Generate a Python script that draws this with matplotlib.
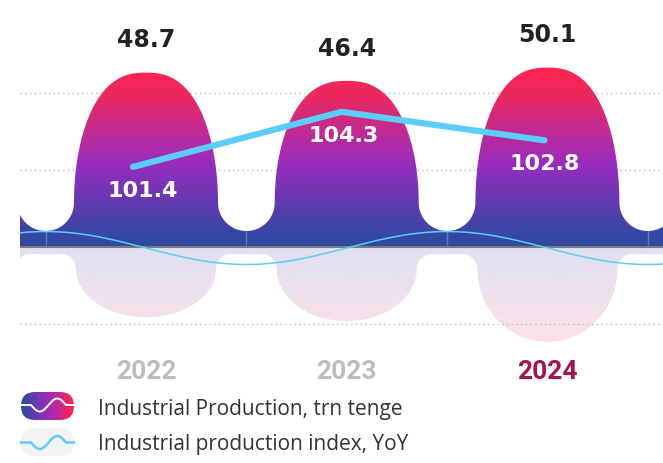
import numpy as np
import matplotlib
matplotlib.use('Agg')
import matplotlib.pyplot as plt
from matplotlib.colors import LinearSegmentedColormap
from matplotlib.patches import Polygon, FancyBboxPatch
from matplotlib.transforms import blended_transform_factory

# ---------------- data ----------------
years = ['2022', '2023', '2024']
production_trn = [48.7, 46.4, 50.1]          # Industrial Production, trn tenge
production_index = [101.4, 104.3, 102.8]     # Industrial production index, YoY
reflection_depth = [19.6, 20.7, 26.5]        # lower mirrored decorative shape
year_colors = ['#bdbdbd', '#bdbdbd', '#a5144f']
legend_labels = ['Industrial Production, trn tenge', 'Industrial production index, YoY']

# ---------------- layout / style ----------------
W, H = 663, 464
PX_X = 200.7      # px per category
PX_Y = 3.58       # px per trn
X0_PX, C0_PX, BASE_PX, AX_BOTTOM_PX = 20, 146, 248, 350

fig = plt.figure(figsize=(W / 100, H / 100), dpi=100)
rect = [X0_PX / W, 1 - AX_BOTTOM_PX / H, (W - X0_PX) / W, AX_BOTTOM_PX / H]
ax = fig.add_axes(rect)
xlim = ((X0_PX - C0_PX) / PX_X, (W - C0_PX) / PX_X)
ylim = (-(AX_BOTTOM_PX - BASE_PX) / PX_Y, BASE_PX / PX_Y)

x = np.arange(len(years))
xs = np.linspace(xlim[0], xlim[1], 4000)


def dome_profile(xv, values, base_px, rc_px, a_px, q=3.0, r=2.0):
    """Height (data units) of a row of rounded domes separated by rounded notches."""
    idx = np.round(xv).astype(int)
    absoff = np.abs(xv - idx) * PX_X
    half = PX_X / 2
    G = half - a_px
    t = half - absoff
    h = np.full_like(xv, base_px)
    m = t > (G - rc_px)
    tt = np.clip(t[m] - (G - rc_px), 0, rc_px)
    h[m] = base_px + rc_px - np.sqrt(rc_px ** 2 - tt ** 2)
    side = base_px + rc_px
    for i, v in enumerate(values):
        sel = (idx == i) & (absoff < a_px)
        u = absoff[sel] / a_px
        h[sel] = side + (v * PX_Y - side) * (1 - u ** q) ** (1 / r)
    return h / PX_Y


# upper domes
top = dome_profile(xs, production_trn, 16, 28.35, 72, q=2.5, r=2.0)
poly_up = Polygon(np.column_stack([np.concatenate([xs, xs[::-1]]),
                                   np.concatenate([top, np.zeros_like(xs)])]),
                  closed=True, facecolor='none', edgecolor='none')
ax.add_patch(poly_up)
GRAD_TOP = 50.5
stops = [(0.0, '#2c4a9f'), (0.089, '#3b46a6'), (0.268, '#6838b1'), (0.464, '#9a2cbe'),
         (0.66, '#c52a8e'), (0.827, '#e9295f'), (1.0, '#ff2450')]
cmap_up = LinearSegmentedColormap.from_list('up', stops)
im = ax.imshow(np.linspace(0, 1, 256).reshape(-1, 1), extent=[xlim[0], xlim[1], 0, GRAD_TOP],
               origin='lower', aspect='auto', cmap=cmap_up, zorder=2, interpolation='bilinear')
im.set_clip_path(poly_up)

# lower mirrored shape
bot = -dome_profile(xs, reflection_depth, 7, 15, 70, q=2.0, r=2.0)
poly_lo = Polygon(np.column_stack([np.concatenate([xs, xs[::-1]]),
                                   np.concatenate([bot, np.zeros_like(xs)])]),
                  closed=True, facecolor='none', edgecolor='none')
ax.add_patch(poly_lo)
cmap_lo = LinearSegmentedColormap.from_list('lo', ['#fde0e8', '#efe0ee', '#dfe0f1'])
im2 = ax.imshow(np.linspace(0, 1, 256).reshape(-1, 1), extent=[xlim[0], xlim[1], bot.min(), 0],
                origin='lower', aspect='auto', cmap=cmap_lo, zorder=0.5, interpolation='bilinear')
im2.set_clip_path(poly_lo)

# grid lines
for gy in [21.5, 43.0, -21.5]:
    ax.axhline(gy, color='#c4c4c4', lw=1.0, ls=(0, (1.2, 2.2)), zorder=1)

# category boundary ticks inside the band
for b in np.arange(-0.5, len(years) + 0.5, 1.0):
    ax.plot([b, b], [0, 16 / PX_Y], color='white', alpha=0.25, lw=1, zorder=3)

# baseline
ax.axhline(0, color='#7a7a7a', lw=1.5, zorder=4)

# thin decorative wave
WAVE_AMP = 16.5 / PX_Y
WAVE_MID = -1 / PX_Y
ax.plot(xs, WAVE_MID + WAVE_AMP * np.cos(np.pi * (xs + 0.5)), color='#5ccdf9', lw=1.1, zorder=5)

# value labels
for i, v in enumerate(production_trn):
    ax.annotate(f'{v}', (x[i], v), xytext=(0, 24), textcoords='offset points',
                ha='center', va='center', fontsize=17, fontweight='bold', color='#222222',
                family='DejaVu Sans')

# year labels
tr = blended_transform_factory(ax.transData, ax.transAxes)
for i, yr in enumerate(years):
    ax.text(x[i], -0.063, yr, transform=tr, ha='center', va='center', fontsize=19,
            fontweight='bold', color=year_colors[i], family='Roboto', clip_on=False)

ax.set_xlim(*xlim)
ax.set_ylim(*ylim)
ax.axis('off')

# index line on its own scale
ax2 = ax.twinx()
ax2.set_ylim(91.81, 110.24)
ax2.set_xlim(*xlim)
LINE_SHIFT = [-0.065, -0.025, -0.015]
lx = x + np.array(LINE_SHIFT)
ax2.plot(lx, production_index, color='#5ccdf9', lw=4.5, solid_capstyle='round',
         solid_joinstyle='round', zorder=6)
for i, v in enumerate(production_index):
    ax2.annotate(f'{v}', (x[i] - 0.015, v), xytext=(0, -16.5), textcoords='offset points',
                 ha='center', va='center', fontsize=16, fontweight='bold', color='white',
                 family='DejaVu Sans')
ax2.axis('off')

# ---------------- legend ----------------
lg = fig.add_axes([0, 0, 1, 1])
lg.set_xlim(0, W)
lg.set_ylim(H, 0)
lg.axis('off')


def pill_wave(x0, x1, cy, amp, s0=31, s1=66):
    xw = np.linspace(x0, x1, 300)
    yw = np.full_like(xw, cy)
    m = (xw >= s0) & (xw <= s1)
    yw[m] = cy + amp * np.sin(2 * np.pi * (xw[m] - s0) / (s1 - s0))
    return xw, yw


pill1 = FancyBboxPatch((21, 393), 53, 28, boxstyle='round,pad=0,rounding_size=14',
                       facecolor='none', edgecolor='none')
lg.add_patch(pill1)
cmap_leg = LinearSegmentedColormap.from_list('leg', ['#2c4a9f', '#9a2cbe', '#ff2450'])
ig = lg.imshow(np.linspace(0, 1, 256).reshape(1, -1), extent=(21, 74, 421, 393),
               cmap=cmap_leg, aspect='auto', interpolation='bilinear')
ig.set_clip_path(pill1)
xw, yw = pill_wave(21, 74, 406, 6.5)
lg.plot(xw, yw, color='white', lw=1.4)

pill2 = FancyBboxPatch((21, 429), 53, 28, boxstyle='round,pad=0,rounding_size=14',
                       facecolor='#f3f3f3', edgecolor='none')
lg.add_patch(pill2)
xw, yw = pill_wave(21, 74, 443.5, 6.5)
lg.plot(xw, yw, color='#5ccdf9', lw=1.8)

lg.text(98, 415, legend_labels[0], va='baseline', ha='left', fontsize=15, color='#333333',
        family='Open Sans')
lg.text(98, 450, legend_labels[1], va='baseline', ha='left', fontsize=15, color='#333333',
        family='Open Sans')
lg.set_xlim(0, W)
lg.set_ylim(H, 0)

fig.savefig('out.png', dpi=100)
